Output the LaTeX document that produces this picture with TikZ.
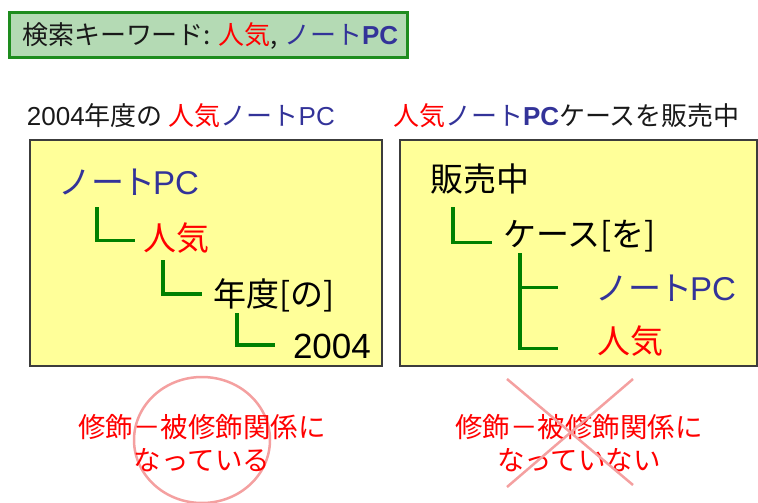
\documentclass[tikz,border=0pt]{standalone}
\usepackage{fontspec}
\setmainfont{Noto Sans CJK JP}
\newfontfamily\latf{Liberation Sans}
\definecolor{kblue}{RGB}{51,51,153}
\definecolor{kred}{RGB}{255,0,0}
\definecolor{kgreen}{RGB}{0,128,0}
\definecolor{topfill}{RGB}{180,218,180}
\definecolor{topline}{RGB}{30,140,30}
\definecolor{yel}{RGB}{255,255,153}
\definecolor{boxline}{RGB}{60,60,60}
\definecolor{pinkmark}{RGB}{244,160,160}
\begin{document}
\begin{tikzpicture}[x=1pt,y=-1pt,
  txt/.style={anchor=base west, inner sep=0pt, outer sep=0pt},
  head/.style={txt, font=\fontsize{26}{30}\selectfont, text=black!90},
  tree/.style={txt, font=\fontsize{33}{38}\selectfont},
  conn/.style={draw=kgreen, line width=3.5pt},
  panel/.style={draw=boxline, fill=yel, line width=1.2pt},
  note/.style={anchor=center, align=center, inner sep=0pt, text=kred, font=\fontsize{27.5}{33}\selectfont},
  pinkline/.style={draw=pinkmark, line width=2.5pt}
]
\useasboundingbox (0,0) rectangle (758,503);

% keyword box
\draw[draw=topline, fill=topfill, line width=3pt] (9.5,12.5) rectangle (407.5,57.5);
\node[head] (kw) at (22,45) {検索キーワード: \textcolor{kred}{人気}, \textcolor{kblue}{ノート{\latf\bfseries PC}}};

% headings
\node[head] (hl) at (27,125) {{\latf 2004}年度の \textcolor{kred}{人気}\textcolor{kblue}{ノート{\latf PC}}};
\node[head] (hr) at (393,125) {\textcolor{kred}{人気}\textcolor{kblue}{ノート{\latf\bfseries PC}}ケースを販売中};

% panels
\draw[panel] (30,140) rectangle (382,366);
\draw[panel] (400,140) rectangle (757,366);

% left tree
\node[tree, text=kblue] (l1) at (58,194.5) {ノー\kern-2pt ト\kern-2pt{\latf PC}};
\node[tree, text=kred] (l2) at (143,250) {人気};
\node[tree] (l3) at (213,306) {年度[の]};
\node[tree] (l4) at (293,358) {\fontsize{35}{38}\selectfont\latf 2004};

\coordinate (lc1) at (97,207);
\coordinate (lc2) at (163,260);
\coordinate (lc3) at (237,313);
\draw[conn] (lc1) |- ([xshift=-8pt,yshift=-3pt]l2.west);
\draw[conn] (lc2) |- ([xshift=-11pt,yshift=1pt]l3.west);
\draw[conn] (lc3) |- ([xshift=-18pt,yshift=1pt]l4.west);

% right tree
\node[tree] (r1) at (430,191) {販売中};
\node[tree] (r2) at (503,246) {ケース[を]};
\node[tree, text=kblue] (r3) at (595,300) {ノー\kern-2pt ト\kern-2pt{\latf PC}};
\node[tree, text=kred] (r4) at (597,353) {人気};

\coordinate (rc1) at (453,207);
\coordinate (rc2) at (520,253);
\draw[conn] (rc1) |- ([xshift=-11pt,yshift=-7pt]r2.west);
\draw[conn] (rc2) |- ([xshift=-39pt,yshift=-8pt]r4.west);
\draw[conn] (rc2 |- r3.west) -- ([xshift=-37pt]r3.west);

% bottom notes
\draw[pinkline] (202,440) ellipse [x radius=68, y radius=63];
\node[note] (nl) at (202,443) {修飾－被修飾関係に\\なっている};
\node[note] (nr) at (579,443) {修飾－被修飾関係に\\なっていない};
\draw[pinkline] (507,379) -- (633,485);
\draw[pinkline] (633,379) -- (507,487);
\end{tikzpicture}
\end{document}
